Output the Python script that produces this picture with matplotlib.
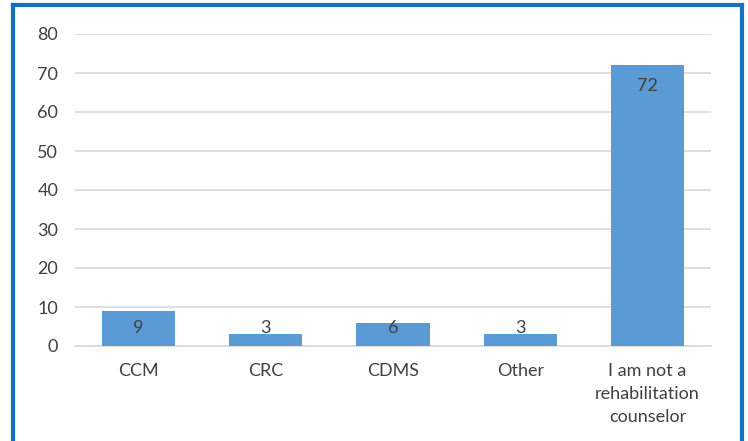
import matplotlib
matplotlib.use("Agg")
import matplotlib.pyplot as plt
from matplotlib.lines import Line2D

categories = ["CCM", "CRC", "CDMS", "Other", "I am not a\nrehabilitation\ncounselor"]
values = [9, 3, 6, 3, 72]
y_ticks = [0, 10, 20, 30, 40, 50, 60, 70, 80]

bar_color = "#5B9BD5"
text_color = "#404040"
grid_color = "#D9D9D9"
frame_color = "#1570C4"

plt.rcParams["font.family"] = ["Lato", "DejaVu Sans"]

fig = plt.figure(figsize=(7.48, 4.41), dpi=100)
ax = fig.add_axes([75 / 748, 1 - 346 / 441, (711 - 75) / 748, (346 - 34) / 441])

x = range(len(categories))
ax.bar(x, values, width=0.575, color=bar_color, zorder=3)

for xi, v in zip(x, values):
    ax.text(xi, max(v - 5.4, 4.7), str(v), ha="center", va="center",
            fontsize=13, color=text_color, zorder=4)

ax.set_xlim(-0.5, len(categories) - 0.5)
ax.set_ylim(0, 80)
ax.set_yticks(y_ticks)
ax.set_xticks(list(x))
ax.set_xticklabels(categories, fontsize=13, color=text_color, linespacing=1.55)
ax.tick_params(axis="y", labelsize=13, labelcolor=text_color, length=0, pad=12)
ax.tick_params(axis="x", length=0, pad=12)
ax.yaxis.grid(True, color=grid_color, linewidth=1.2, zorder=0)
for s in ["top", "right", "left"]:
    ax.spines[s].set_visible(False)
ax.spines["bottom"].set_color(grid_color)
ax.spines["bottom"].set_linewidth(1.2)

# outer blue frame (open at the bottom edge)
W, H = 748, 441
xl, xr, yt = 12.5 / W, 741.5 / W, 1 - 5 / H
for xs, ys in [([xl, xl], [0, yt]), ([xl, xr], [yt, yt]), ([xr, xr], [yt, 0])]:
    fig.add_artist(Line2D(xs, ys, color=frame_color, linewidth=3.0,
                          transform=fig.transFigure))

fig.savefig("out.png", dpi=100)
